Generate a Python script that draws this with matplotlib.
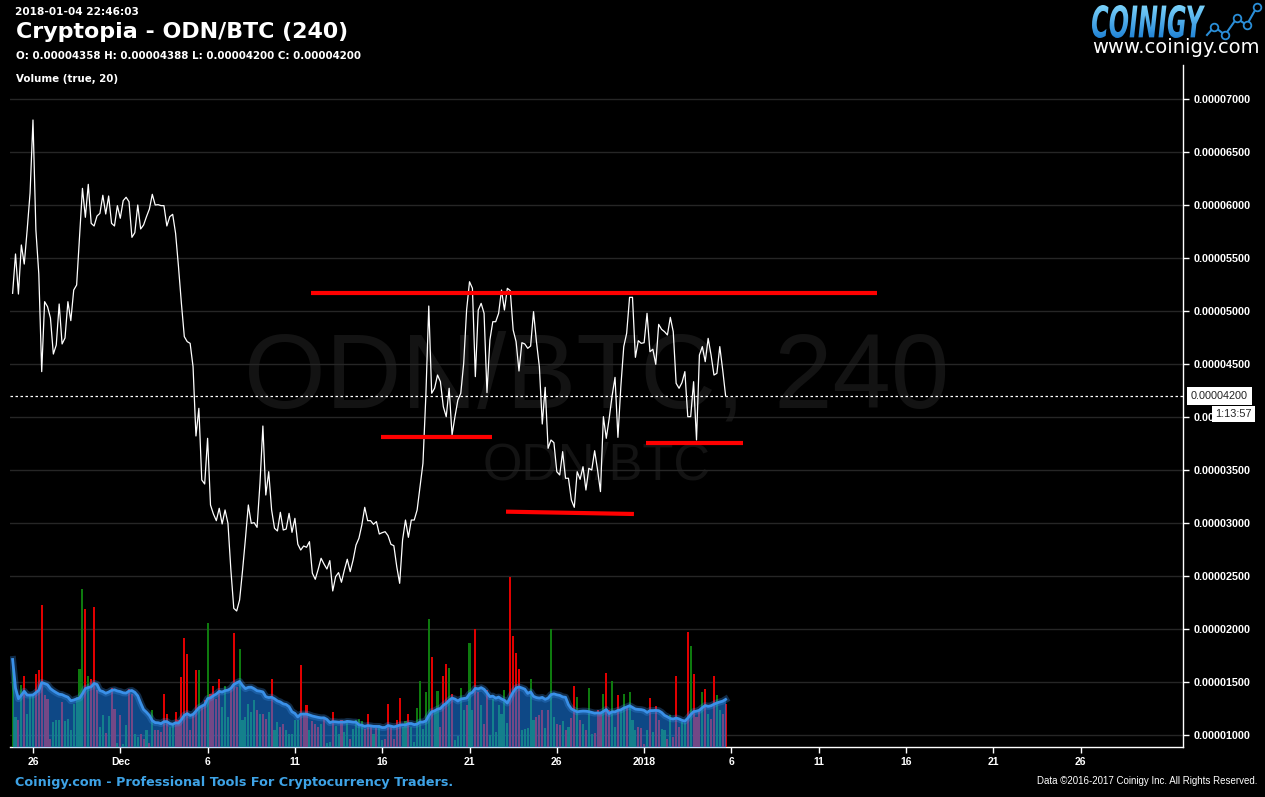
import matplotlib
matplotlib.use('Agg')
import matplotlib.pyplot as plt
import numpy as np
import pandas as pd
from matplotlib.textpath import TextPath
from matplotlib.font_manager import FontProperties
from matplotlib.patches import PathPatch
from matplotlib.transforms import Affine2D, blended_transform_factory
from matplotlib.colors import LinearSegmentedColormap
from matplotlib.lines import Line2D

W, H = 1265, 797

# 4h closes in satoshi (1e-8 BTC)
closes = [
    5167, 5538, 5160, 5623, 5443, 5764, 6113, 6802, 5764, 5350,
    4428, 5088, 5041, 4934, 4594, 4679, 5066, 4689, 4745, 5088,
    4909, 5198, 5245, 5701, 6157, 5884, 6195, 5827, 5802, 5896,
    5921, 6092, 5915, 6085, 5827, 5802, 5994, 5875, 6041, 6073,
    6031, 5695, 5739, 6000, 5774, 5811, 5890, 5962, 6101, 6000,
    6003, 5994, 5994, 5802, 5890, 5912, 5733, 5418, 5072, 4758,
    4711, 4695, 4475, 3821, 4082, 3406, 3368, 3799, 3170, 3085,
    3022, 3139, 2991, 3123, 2997, 2557, 2195, 2170, 2274,
    2550, 2850, 3170, 2997, 3003, 2959, 3375, 3915, 3264, 3484,
    3123, 2950, 2925, 3101, 2934, 2943, 3091, 2912, 3044, 2800,
    2745, 2783, 2771, 2824, 2526, 2469, 2563, 2667, 2613, 2566,
    2645, 2359, 2494, 2532, 2441, 2557, 2658, 2541, 2651, 2792,
    2856, 2981, 3148, 3022, 3022, 2988, 3013, 2896, 2909, 2918,
    2881, 2799, 2786, 2588, 2431, 2840, 3028, 2865, 3028, 3028,
    3123, 3343, 3563, 4200, 5047, 4224, 4271, 4396, 4333, 4097,
    4003, 4271, 3830, 4003, 4160, 4224, 4507, 5009, 5276, 5214,
    4381, 5009,
    5072, 4978, 4230, 4726, 4899, 4899, 4978, 5198, 5009, 5214,
    5192, 4821, 4711, 4434, 4701, 4689, 4648, 4670, 4994, 4711,
    4475, 3934, 4280, 3705, 3783, 3758, 3484, 3453, 3673, 3422,
    3422, 3217, 3148, 3484, 3412, 3531, 3311, 3516, 3500, 3682,
    3500, 3296, 4003, 3799, 3988, 4200, 4374, 3808, 4287, 4664,
    4790, 5129, 5129, 4563, 4720, 4695, 4701, 4978, 4616, 4639,
    4497, 4874, 4827, 4805, 4774, 4940, 4805, 4318, 4271, 4324,
    4428, 4003, 4003, 4333, 3783, 4585, 4664, 4522, 4742, 4585,
    4396, 4412, 4664, 4443, 4200,
]

# volume per candle (relative units)
volumes = [
    87, 30, 27, 62, 71, 33, 51, 53, 73, 77,
    141, 52, 48, 8, 25, 27, 27, 45, 26, 28,
    17, 43, 50, 78, 157, 137, 71, 68, 139, 57,
    20, 32, 14, 31, 59, 38, 4, 32, 3, 22,
    58, 53, 13, 10, 13, 8, 17, 4, 37, 17,
    17, 15, 53, 33, 20, 22, 35, 27, 70, 108,
    92, 17, 33, 77, 77, 42, 47, 123, 53, 61,
    48, 68, 40, 61, 30, 57, 113, 60, 97, 27,
    30, 43, 35, 47, 37, 33, 33, 28, 35, 68,
    17, 25, 20, 23, 17, 13, 13, 27, 27, 82,
    33, 42, 17, 26, 23, 20, 23, 29, 4, 5,
    35, 21, 13, 27, 15, 27, 8, 18, 27, 28,
    26, 18, 33, 20, 13, 19, 22,
    7, 8, 43, 20, 8, 27, 49, 20, 26, 33,
    20, 5, 39, 66, 18, 55, 127, 89, 37, 56,
    20, 71, 83, 79, 53, 7, 11, 59, 37, 42,
    103, 37, 117, 55, 42, 23, 57, 12, 48, 15,
    42, 33, 57, 24, 169, 110, 93, 78, 17, 18,
    19, 68, 27, 30, 32, 37, 19, 37, 117, 30,
    23, 22, 26, 17, 20, 29, 61, 50, 27, 23,
    17, 59, 13, 14, 37, 33, 53, 74, 37, 66,
    20, 52, 37, 53, 40, 55, 27, 17, 20, 19,
    3, 17, 49, 15, 41, 27, 18, 17, 8, 32,
    10, 71, 20, 25, 24, 114, 100, 73, 30, 37,
    55, 58, 33, 28, 71, 52, 37, 33, 43,
]

# candle direction: g = up, r = down
directions = (
    "ggrgrgggrr" "rrrrgggrgg" "gggggrgrrr" "ggrgrrgrgg" "rrggrrgrgr"
    "rrrrggrrrr" "rrrrgrrgrr" "rrgggrrrgg" "ggggrgrrgr" "ggrrgggggr"
    "rrgrrrgrgg" "rggrggrggg" "grrrgrg"
    "grrrrrrggr" "gggggggrgg" "rrrgrggggr" "ggrrgrrggg" "ggggrrrrgg"
    "gggrrrgrgg" "rrgrgrrgrg" "rggrrrgrrg" "grggrgggrr" "rgrgrrggrg"
    "rrrggrgrrr" "grgrrggrr"
)

times = pd.date_range('2017-11-24 20:00', periods=len(closes), freq='4h')

tick_dates = pd.date_range('2017-11-26', periods=13, freq='5D')
tick_labels = ['26', 'Dec', '6', '11', '16', '21', '26', '2018', '6', '11', '16', '21', '26']
price_ticks = np.arange(1000, 7001, 500)

# hand drawn support / resistance lines
line_t0 = ['2017-12-11 22:00', '2017-12-15 22:20', '2017-12-23 02:10', '2017-12-31 02:30']
line_t1 = ['2018-01-13 08:10', '2017-12-22 06:30', '2017-12-30 10:00', '2018-01-05 15:50']
line_p0 = [5168, 3808, 3107, 3758]
line_p1 = [5168, 3808, 3085, 3758]

fig = plt.figure(figsize=(W / 100, H / 100), dpi=100, facecolor='black')
rect = [10 / W, 50 / H, 1173 / W, 682 / H]

ax = fig.add_axes(rect)
ax.set_facecolor('black')
axv = fig.add_axes(rect, sharex=ax)
axv.patch.set_visible(False)
axv.axis('off')

# volume
bar_colors = ['#0e7a0e' if d == 'g' else '#e00000' for d in directions]
axv.bar(times, volumes, width=0.12, color=bar_colors, linewidth=0, zorder=2)
ma = pd.Series(volumes).rolling(20, min_periods=1).mean()
axv.fill_between(times, 0, ma, color=(0.1, 0.52, 0.96), alpha=0.55, linewidth=0, zorder=3)
axv.plot(times, ma, color='#3a8ee6', lw=5, alpha=0.3, zorder=4)
axv.plot(times, ma, color='#3a90e8', lw=2, zorder=5)
axv.set_ylim(0, 678)

# price
ax.plot(times, closes, color='white', lw=0.9, zorder=4)
for t0, t1, p0, p1 in zip(line_t0, line_t1, line_p0, line_p1):
    ax.plot([pd.Timestamp(t0), pd.Timestamp(t1)], [p0, p1], color='#ff0000', lw=3, solid_capstyle='butt', zorder=5)
ax.axhline(closes[-1], color='white', lw=0.9, ls=(0, (2, 2)), zorder=3)

ax.text(0.5, 0.4985, 'ODN/BTC, 240', transform=ax.transAxes, ha='center', va='baseline',
        fontsize=75.5, color='#131313', family='Liberation Sans', zorder=0)
ax.text(0.5, 0.3915, 'ODN/BTC', transform=ax.transAxes, ha='center', va='baseline',
        fontsize=36.5, color='#131313', family='Liberation Sans', zorder=0)

ax.set_xlim(pd.Timestamp('2017-11-24 16:25'), pd.Timestamp('2018-01-30 20:40'))
ax.set_ylim(886.8, 7320.8)

ax.set_yticks(price_ticks, labels=[f"{p / 1e8:.8f}" for p in price_ticks],
              fontweight='bold', family='Liberation Sans', fontsize=7.8)
ax.set_xticks(tick_dates, labels=tick_labels, fontweight='bold', family='Liberation Sans', fontsize=7.5)
ax.yaxis.tick_right()
ax.tick_params(axis='y', colors='white', length=4, width=1, pad=4)
ax.tick_params(axis='x', colors='white', length=4, width=1, pad=3)
ax.grid(axis='y', color='#262626', lw=1)
ax.set_axisbelow(True)
for s in ['left', 'top']:
    ax.spines[s].set_visible(False)
for s in ['right', 'bottom']:
    ax.spines[s].set_color('white')
    ax.spines[s].set_linewidth(1)

# last price tag and countdown
tr = blended_transform_factory(ax.transAxes, ax.transData)
ax.text(1.0 + 8 / 1173, closes[-1], f"{closes[-1] / 1e8:.8f}", transform=tr, va='center', ha='left',
        fontsize=7.8, family='Liberation Sans', color='#222222', clip_on=False, zorder=6,
        bbox=dict(boxstyle='square,pad=0.35', facecolor='white', edgecolor='none'))
ax.annotate('1:13:57', xy=(1.0, closes[-1]), xycoords=tr, xytext=(36, -13), textcoords='offset points',
            ha='center', va='center', fontsize=7.8, family='Liberation Sans', color='#222222',
            annotation_clip=False, zorder=6,
            bbox=dict(boxstyle='square,pad=0.3', facecolor='white', edgecolor='none'))

# header
def px(x, y):
    return x / W, 1 - y / H

fig.text(*px(15, 15), '2018-01-04 22:46:03', color='white', fontsize=7.6, fontweight='bold', va='baseline')
fig.text(*px(16, 38), 'Cryptopia - ODN/BTC (240)', color='white', fontsize=15.9, fontweight='bold', va='baseline')
fig.text(*px(16, 59), 'O: 0.00004358 H: 0.00004388 L: 0.00004200 C: 0.00004200', color='white',
         fontsize=7.4, fontweight='bold', va='baseline')
fig.text(*px(16, 82), 'Volume (true, 20)', color='white', fontsize=7.4, fontweight='bold', va='baseline')

# footer
fig.text(*px(15, 786), 'Coinigy.com - Professional Tools For Cryptocurrency Traders.', color='#3ea3e6',
         fontsize=9.2, fontweight='bold', va='baseline')
fig.text(*px(1257, 784), 'Data \u00a92016-2017 Coinigy Inc. All Rights Reserved.', color='white',
         fontsize=7, family='Liberation Sans', ha='right', va='baseline')

# logo
fp = FontProperties(family='DejaVu Sans', weight='bold', style='italic')
tp = TextPath((0, 0), 'COINIGY', size=10, prop=fp)
bb = tp.get_extents()
logo_tr = Affine2D().translate(-bb.x0, -bb.y0).scale(113 / bb.width / W, 33 / bb.height / H).translate(1092 / W, (H - 38) / H)
logo_patch = PathPatch(logo_tr.transform_path(tp), transform=fig.transFigure, facecolor='#35a4ee', edgecolor='none')
lax = fig.add_axes([1088 / W, (H - 40) / H, 122 / W, 38 / H])
lax.axis('off')
grad = np.linspace(0, 1, 64).reshape(-1, 1)
im = lax.imshow(grad, cmap=LinearSegmentedColormap.from_list('logo', ['#86dcff', '#1c7fd4']),
                aspect='auto', extent=[0, 1, 0, 1])
im.set_clip_path(logo_patch)

icon_x = np.array([1207, 1214.3, 1225, 1236.7, 1246.7, 1256.7]) / W
icon_y = 1 - np.array([35, 26.7, 35, 18.3, 25, 7.3]) / H
fig.add_artist(Line2D(icon_x, icon_y, transform=fig.transFigure, color='#2a8ed8', lw=1.5))
fig.add_artist(Line2D(icon_x[1:], icon_y[1:], transform=fig.transFigure, ls='none', marker='o', ms=5.5,
                      mfc='black', mec='#2a8ed8', mew=1.3))
fig.text(*px(1092, 53), 'www.coinigy.com', color='white', fontsize=14, va='baseline')

fig.savefig('out.png', dpi=100, facecolor='black')
